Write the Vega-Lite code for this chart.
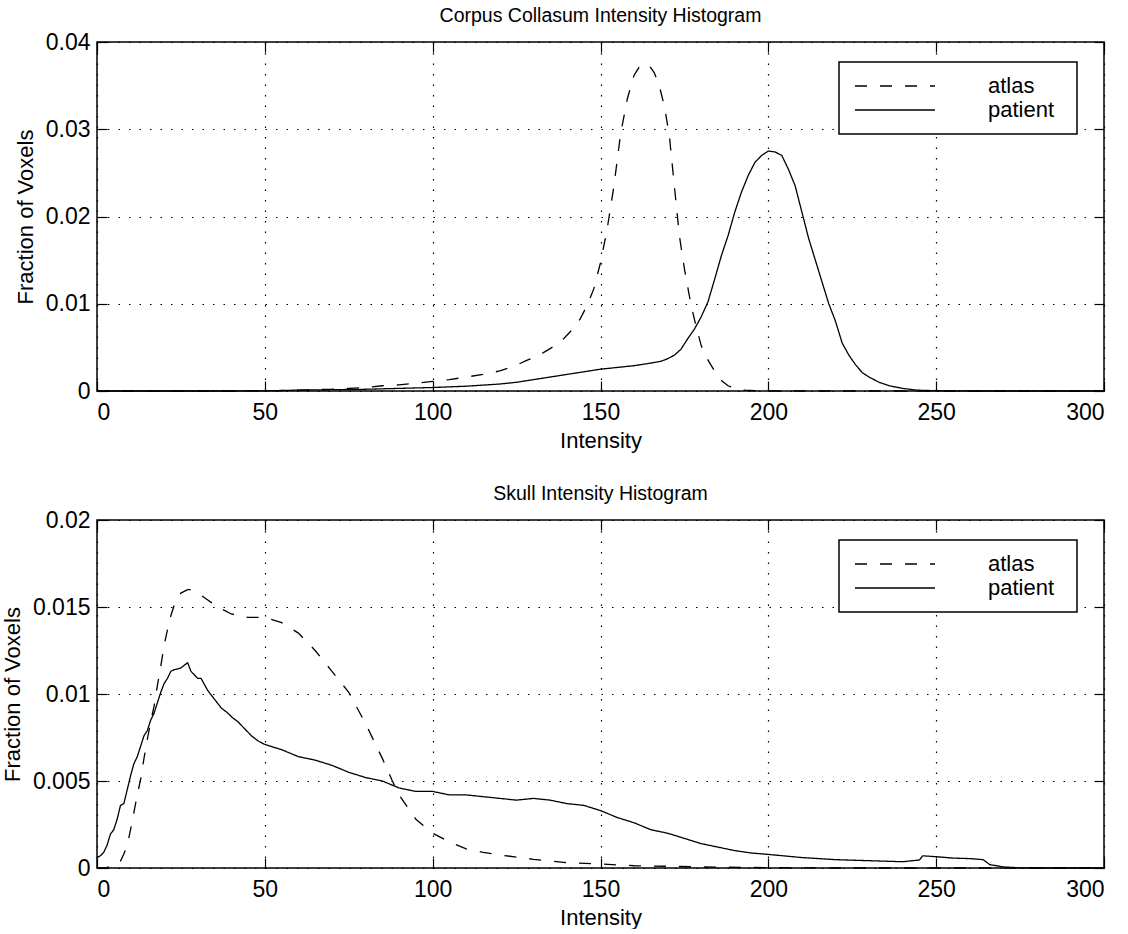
{
  "$schema": "https://vega.github.io/schema/vega-lite/v6.json",
  "background": "white",
  "padding": {"left": 0, "top": 4, "right": 0, "bottom": 0},
  "spacing": 30,
  "config": {
    "font": "Liberation Sans",
    "view": {"stroke": "black", "strokeWidth": 1.5},
    "axis": {
      "domain": false,
      "labelFont": "Liberation Sans",
      "labelFontSize": 23,
      "labelColor": "black",
      "titleFont": "Liberation Sans",
      "titleFontSize": 22,
      "titleFontWeight": "normal",
      "titleColor": "black",
      "tickColor": "black",
      "tickSize": -10,
      "tickWidth": 1.2,
      "grid": true,
      "gridColor": "black",
      "gridDash": [1.5, 9],
      "gridOpacity": 1,
      "gridWidth": 1.2
    },
    "axisX": {"labelPadding": 20, "titlePadding": 6},
    "axisY": {"labelPadding": 17, "titlePadding": 8},
    "title": {"font": "Liberation Sans", "fontSize": 19.5, "fontWeight": "normal", "color": "black", "offset": 5},
    "legend": {
      "orient": "none",
      "legendX": 742,
      "legendY": 20,
      "titleOrient": "right",
      "titleFontSize": 1,
      "titlePadding": 11,
      "symbolType": "stroke",
      "symbolSize": 6400,
      "symbolStrokeWidth": 1.5,
      "symbolStrokeColor": "black",
      "clipHeight": 24,
      "rowPadding": 0,
      "labelFont": "Liberation Sans",
      "labelFontSize": 22,
      "labelColor": "black",
      "labelOffset": 52,
      "symbolOffset": 3,
      "padding": 12,
      "strokeColor": "black",
      "fillColor": "white",
      "strokeWidth": 1.5
    }
  },
  "resolve": {"scale": {"x": "independent", "y": "independent", "strokeDash": "independent"}, "legend": {"strokeDash": "independent"}},
  "datasets": {
    "cc": [
      {"intensity": 0, "fraction": 0, "series": "atlas"},
      {"intensity": 10, "fraction": 0, "series": "atlas"},
      {"intensity": 20, "fraction": 0, "series": "atlas"},
      {"intensity": 30, "fraction": 0, "series": "atlas"},
      {"intensity": 40, "fraction": 0, "series": "atlas"},
      {"intensity": 50, "fraction": 0.00002, "series": "atlas"},
      {"intensity": 55, "fraction": 0.00005, "series": "atlas"},
      {"intensity": 60, "fraction": 0.0001, "series": "atlas"},
      {"intensity": 65, "fraction": 0.00015, "series": "atlas"},
      {"intensity": 70, "fraction": 0.0002, "series": "atlas"},
      {"intensity": 75, "fraction": 0.0003, "series": "atlas"},
      {"intensity": 80, "fraction": 0.0004, "series": "atlas"},
      {"intensity": 85, "fraction": 0.0006, "series": "atlas"},
      {"intensity": 90, "fraction": 0.0007, "series": "atlas"},
      {"intensity": 95, "fraction": 0.0009, "series": "atlas"},
      {"intensity": 100, "fraction": 0.0011, "series": "atlas"},
      {"intensity": 105, "fraction": 0.0013, "series": "atlas"},
      {"intensity": 110, "fraction": 0.0016, "series": "atlas"},
      {"intensity": 115, "fraction": 0.0019, "series": "atlas"},
      {"intensity": 120, "fraction": 0.0023, "series": "atlas"},
      {"intensity": 124, "fraction": 0.0028, "series": "atlas"},
      {"intensity": 128, "fraction": 0.0035, "series": "atlas"},
      {"intensity": 131, "fraction": 0.004, "series": "atlas"},
      {"intensity": 133, "fraction": 0.0044, "series": "atlas"},
      {"intensity": 136, "fraction": 0.0051, "series": "atlas"},
      {"intensity": 139, "fraction": 0.006, "series": "atlas"},
      {"intensity": 142, "fraction": 0.0072, "series": "atlas"},
      {"intensity": 144, "fraction": 0.0083, "series": "atlas"},
      {"intensity": 146, "fraction": 0.0098, "series": "atlas"},
      {"intensity": 148, "fraction": 0.0117, "series": "atlas"},
      {"intensity": 150, "fraction": 0.0147, "series": "atlas"},
      {"intensity": 152, "fraction": 0.0186, "series": "atlas"},
      {"intensity": 154, "fraction": 0.0235, "series": "atlas"},
      {"intensity": 156, "fraction": 0.0295, "series": "atlas"},
      {"intensity": 158, "fraction": 0.0335, "series": "atlas"},
      {"intensity": 160, "fraction": 0.0362, "series": "atlas"},
      {"intensity": 161.5, "fraction": 0.0371, "series": "atlas"},
      {"intensity": 163, "fraction": 0.0375, "series": "atlas"},
      {"intensity": 164.5, "fraction": 0.0373, "series": "atlas"},
      {"intensity": 166, "fraction": 0.0365, "series": "atlas"},
      {"intensity": 167.5, "fraction": 0.035, "series": "atlas"},
      {"intensity": 169, "fraction": 0.0327, "series": "atlas"},
      {"intensity": 170.5, "fraction": 0.0293, "series": "atlas"},
      {"intensity": 172, "fraction": 0.0235, "series": "atlas"},
      {"intensity": 173.5, "fraction": 0.0178, "series": "atlas"},
      {"intensity": 175, "fraction": 0.014, "series": "atlas"},
      {"intensity": 177, "fraction": 0.0098, "series": "atlas"},
      {"intensity": 178.5, "fraction": 0.0074, "series": "atlas"},
      {"intensity": 180, "fraction": 0.0052, "series": "atlas"},
      {"intensity": 181.5, "fraction": 0.0039, "series": "atlas"},
      {"intensity": 183, "fraction": 0.0029, "series": "atlas"},
      {"intensity": 184.5, "fraction": 0.002, "series": "atlas"},
      {"intensity": 186, "fraction": 0.0012, "series": "atlas"},
      {"intensity": 188, "fraction": 0.0006, "series": "atlas"},
      {"intensity": 190, "fraction": 0.0003, "series": "atlas"},
      {"intensity": 193, "fraction": 0.0001, "series": "atlas"},
      {"intensity": 196, "fraction": 0.00003, "series": "atlas"},
      {"intensity": 200, "fraction": 0, "series": "atlas"},
      {"intensity": 220, "fraction": 0, "series": "atlas"},
      {"intensity": 250, "fraction": 0, "series": "atlas"},
      {"intensity": 300, "fraction": 0, "series": "atlas"},
      {"intensity": 0, "fraction": 0, "series": "patient"},
      {"intensity": 20, "fraction": 0, "series": "patient"},
      {"intensity": 40, "fraction": 0, "series": "patient"},
      {"intensity": 50, "fraction": 0.00002, "series": "patient"},
      {"intensity": 60, "fraction": 0.0001, "series": "patient"},
      {"intensity": 70, "fraction": 0.00015, "series": "patient"},
      {"intensity": 80, "fraction": 0.0002, "series": "patient"},
      {"intensity": 90, "fraction": 0.0003, "series": "patient"},
      {"intensity": 100, "fraction": 0.0004, "series": "patient"},
      {"intensity": 110, "fraction": 0.00055, "series": "patient"},
      {"intensity": 120, "fraction": 0.0008, "series": "patient"},
      {"intensity": 125, "fraction": 0.001, "series": "patient"},
      {"intensity": 130, "fraction": 0.0013, "series": "patient"},
      {"intensity": 135, "fraction": 0.0016, "series": "patient"},
      {"intensity": 140, "fraction": 0.0019, "series": "patient"},
      {"intensity": 145, "fraction": 0.0022, "series": "patient"},
      {"intensity": 150, "fraction": 0.0025, "series": "patient"},
      {"intensity": 155, "fraction": 0.0027, "series": "patient"},
      {"intensity": 160, "fraction": 0.0029, "series": "patient"},
      {"intensity": 165, "fraction": 0.0032, "series": "patient"},
      {"intensity": 168, "fraction": 0.0034, "series": "patient"},
      {"intensity": 170, "fraction": 0.0037, "series": "patient"},
      {"intensity": 172, "fraction": 0.0041, "series": "patient"},
      {"intensity": 174, "fraction": 0.0048, "series": "patient"},
      {"intensity": 176, "fraction": 0.006, "series": "patient"},
      {"intensity": 178, "fraction": 0.0071, "series": "patient"},
      {"intensity": 180, "fraction": 0.0085, "series": "patient"},
      {"intensity": 182, "fraction": 0.0102, "series": "patient"},
      {"intensity": 184, "fraction": 0.0128, "series": "patient"},
      {"intensity": 186, "fraction": 0.0155, "series": "patient"},
      {"intensity": 188, "fraction": 0.0178, "series": "patient"},
      {"intensity": 190, "fraction": 0.0205, "series": "patient"},
      {"intensity": 192, "fraction": 0.0228, "series": "patient"},
      {"intensity": 194, "fraction": 0.0247, "series": "patient"},
      {"intensity": 196, "fraction": 0.0262, "series": "patient"},
      {"intensity": 198, "fraction": 0.027, "series": "patient"},
      {"intensity": 200, "fraction": 0.0275, "series": "patient"},
      {"intensity": 202, "fraction": 0.0274, "series": "patient"},
      {"intensity": 204, "fraction": 0.027, "series": "patient"},
      {"intensity": 206, "fraction": 0.0254, "series": "patient"},
      {"intensity": 208, "fraction": 0.0235, "series": "patient"},
      {"intensity": 210, "fraction": 0.0205, "series": "patient"},
      {"intensity": 212, "fraction": 0.0175, "series": "patient"},
      {"intensity": 214, "fraction": 0.015, "series": "patient"},
      {"intensity": 216, "fraction": 0.0125, "series": "patient"},
      {"intensity": 218, "fraction": 0.01, "series": "patient"},
      {"intensity": 220, "fraction": 0.008, "series": "patient"},
      {"intensity": 222, "fraction": 0.0055, "series": "patient"},
      {"intensity": 224, "fraction": 0.0041, "series": "patient"},
      {"intensity": 226, "fraction": 0.003, "series": "patient"},
      {"intensity": 228, "fraction": 0.0021, "series": "patient"},
      {"intensity": 230, "fraction": 0.0016, "series": "patient"},
      {"intensity": 233, "fraction": 0.001, "series": "patient"},
      {"intensity": 236, "fraction": 0.0006, "series": "patient"},
      {"intensity": 240, "fraction": 0.0003, "series": "patient"},
      {"intensity": 244, "fraction": 0.0001, "series": "patient"},
      {"intensity": 250, "fraction": 0.00003, "series": "patient"},
      {"intensity": 260, "fraction": 0, "series": "patient"},
      {"intensity": 300, "fraction": 0, "series": "patient"}
    ],
    "skull": [
      {"intensity": 0, "fraction": 0, "series": "atlas"},
      {"intensity": 2, "fraction": 0, "series": "atlas"},
      {"intensity": 3, "fraction": 0.00004, "series": "atlas"},
      {"intensity": 5, "fraction": 0.00013, "series": "atlas"},
      {"intensity": 6, "fraction": 0.0002, "series": "atlas"},
      {"intensity": 7, "fraction": 0.0004, "series": "atlas"},
      {"intensity": 8, "fraction": 0.0008, "series": "atlas"},
      {"intensity": 9, "fraction": 0.0013, "series": "atlas"},
      {"intensity": 10, "fraction": 0.0022, "series": "atlas"},
      {"intensity": 11, "fraction": 0.0032, "series": "atlas"},
      {"intensity": 12, "fraction": 0.0042, "series": "atlas"},
      {"intensity": 13, "fraction": 0.0051, "series": "atlas"},
      {"intensity": 14, "fraction": 0.0063, "series": "atlas"},
      {"intensity": 15, "fraction": 0.0074, "series": "atlas"},
      {"intensity": 16, "fraction": 0.0084, "series": "atlas"},
      {"intensity": 17, "fraction": 0.0093, "series": "atlas"},
      {"intensity": 18, "fraction": 0.0105, "series": "atlas"},
      {"intensity": 19, "fraction": 0.0116, "series": "atlas"},
      {"intensity": 20, "fraction": 0.0128, "series": "atlas"},
      {"intensity": 21, "fraction": 0.0137, "series": "atlas"},
      {"intensity": 22, "fraction": 0.0145, "series": "atlas"},
      {"intensity": 23, "fraction": 0.0151, "series": "atlas"},
      {"intensity": 24, "fraction": 0.0155, "series": "atlas"},
      {"intensity": 25, "fraction": 0.0158, "series": "atlas"},
      {"intensity": 27, "fraction": 0.016, "series": "atlas"},
      {"intensity": 28, "fraction": 0.016, "series": "atlas"},
      {"intensity": 30, "fraction": 0.0158, "series": "atlas"},
      {"intensity": 33, "fraction": 0.0154, "series": "atlas"},
      {"intensity": 36, "fraction": 0.015, "series": "atlas"},
      {"intensity": 40, "fraction": 0.0146, "series": "atlas"},
      {"intensity": 45, "fraction": 0.0144, "series": "atlas"},
      {"intensity": 50, "fraction": 0.0144, "series": "atlas"},
      {"intensity": 55, "fraction": 0.0141, "series": "atlas"},
      {"intensity": 60, "fraction": 0.0135, "series": "atlas"},
      {"intensity": 65, "fraction": 0.0125, "series": "atlas"},
      {"intensity": 70, "fraction": 0.0113, "series": "atlas"},
      {"intensity": 75, "fraction": 0.0101, "series": "atlas"},
      {"intensity": 80, "fraction": 0.0083, "series": "atlas"},
      {"intensity": 85, "fraction": 0.0063, "series": "atlas"},
      {"intensity": 88, "fraction": 0.005, "series": "atlas"},
      {"intensity": 90, "fraction": 0.0042, "series": "atlas"},
      {"intensity": 95, "fraction": 0.0028, "series": "atlas"},
      {"intensity": 100, "fraction": 0.002, "series": "atlas"},
      {"intensity": 105, "fraction": 0.0015, "series": "atlas"},
      {"intensity": 110, "fraction": 0.0011, "series": "atlas"},
      {"intensity": 115, "fraction": 0.0009, "series": "atlas"},
      {"intensity": 120, "fraction": 0.00075, "series": "atlas"},
      {"intensity": 130, "fraction": 0.0005, "series": "atlas"},
      {"intensity": 140, "fraction": 0.0003, "series": "atlas"},
      {"intensity": 150, "fraction": 0.00023, "series": "atlas"},
      {"intensity": 160, "fraction": 0.00013, "series": "atlas"},
      {"intensity": 170, "fraction": 0.0001, "series": "atlas"},
      {"intensity": 180, "fraction": 0.00006, "series": "atlas"},
      {"intensity": 200, "fraction": 0.00002, "series": "atlas"},
      {"intensity": 220, "fraction": 0, "series": "atlas"},
      {"intensity": 300, "fraction": 0, "series": "atlas"},
      {"intensity": 0, "fraction": 0.0006, "series": "patient"},
      {"intensity": 1, "fraction": 0.0007, "series": "patient"},
      {"intensity": 2, "fraction": 0.0009, "series": "patient"},
      {"intensity": 3, "fraction": 0.0013, "series": "patient"},
      {"intensity": 4, "fraction": 0.00195, "series": "patient"},
      {"intensity": 5, "fraction": 0.0022, "series": "patient"},
      {"intensity": 6, "fraction": 0.0028, "series": "patient"},
      {"intensity": 7, "fraction": 0.0036, "series": "patient"},
      {"intensity": 8, "fraction": 0.0037, "series": "patient"},
      {"intensity": 9, "fraction": 0.0045, "series": "patient"},
      {"intensity": 10, "fraction": 0.0053, "series": "patient"},
      {"intensity": 11, "fraction": 0.006, "series": "patient"},
      {"intensity": 12, "fraction": 0.0064, "series": "patient"},
      {"intensity": 13, "fraction": 0.007, "series": "patient"},
      {"intensity": 14, "fraction": 0.0076, "series": "patient"},
      {"intensity": 15, "fraction": 0.0079, "series": "patient"},
      {"intensity": 16, "fraction": 0.0085, "series": "patient"},
      {"intensity": 17, "fraction": 0.0089, "series": "patient"},
      {"intensity": 18, "fraction": 0.0095, "series": "patient"},
      {"intensity": 19, "fraction": 0.0101, "series": "patient"},
      {"intensity": 20, "fraction": 0.0106, "series": "patient"},
      {"intensity": 21, "fraction": 0.0109, "series": "patient"},
      {"intensity": 22, "fraction": 0.0113, "series": "patient"},
      {"intensity": 23, "fraction": 0.0114, "series": "patient"},
      {"intensity": 25, "fraction": 0.0115, "series": "patient"},
      {"intensity": 27, "fraction": 0.0118, "series": "patient"},
      {"intensity": 28, "fraction": 0.0113, "series": "patient"},
      {"intensity": 30, "fraction": 0.0109, "series": "patient"},
      {"intensity": 31, "fraction": 0.0109, "series": "patient"},
      {"intensity": 33, "fraction": 0.0102, "series": "patient"},
      {"intensity": 35, "fraction": 0.0097, "series": "patient"},
      {"intensity": 37, "fraction": 0.0092, "series": "patient"},
      {"intensity": 39, "fraction": 0.0089, "series": "patient"},
      {"intensity": 40, "fraction": 0.0087, "series": "patient"},
      {"intensity": 42, "fraction": 0.0084, "series": "patient"},
      {"intensity": 44, "fraction": 0.008, "series": "patient"},
      {"intensity": 46, "fraction": 0.0076, "series": "patient"},
      {"intensity": 48, "fraction": 0.0073, "series": "patient"},
      {"intensity": 50, "fraction": 0.0071, "series": "patient"},
      {"intensity": 55, "fraction": 0.0068, "series": "patient"},
      {"intensity": 60, "fraction": 0.0064, "series": "patient"},
      {"intensity": 65, "fraction": 0.0062, "series": "patient"},
      {"intensity": 70, "fraction": 0.0059, "series": "patient"},
      {"intensity": 75, "fraction": 0.0055, "series": "patient"},
      {"intensity": 80, "fraction": 0.0052, "series": "patient"},
      {"intensity": 85, "fraction": 0.005, "series": "patient"},
      {"intensity": 90, "fraction": 0.0046, "series": "patient"},
      {"intensity": 95, "fraction": 0.0044, "series": "patient"},
      {"intensity": 100, "fraction": 0.0044, "series": "patient"},
      {"intensity": 105, "fraction": 0.0042, "series": "patient"},
      {"intensity": 110, "fraction": 0.0042, "series": "patient"},
      {"intensity": 115, "fraction": 0.0041, "series": "patient"},
      {"intensity": 120, "fraction": 0.004, "series": "patient"},
      {"intensity": 125, "fraction": 0.0039, "series": "patient"},
      {"intensity": 130, "fraction": 0.004, "series": "patient"},
      {"intensity": 135, "fraction": 0.0039, "series": "patient"},
      {"intensity": 140, "fraction": 0.0037, "series": "patient"},
      {"intensity": 145, "fraction": 0.0036, "series": "patient"},
      {"intensity": 150, "fraction": 0.0033, "series": "patient"},
      {"intensity": 155, "fraction": 0.0029, "series": "patient"},
      {"intensity": 160, "fraction": 0.0026, "series": "patient"},
      {"intensity": 165, "fraction": 0.0022, "series": "patient"},
      {"intensity": 170, "fraction": 0.002, "series": "patient"},
      {"intensity": 175, "fraction": 0.0017, "series": "patient"},
      {"intensity": 180, "fraction": 0.0014, "series": "patient"},
      {"intensity": 185, "fraction": 0.0012, "series": "patient"},
      {"intensity": 190, "fraction": 0.001, "series": "patient"},
      {"intensity": 195, "fraction": 0.00086, "series": "patient"},
      {"intensity": 200, "fraction": 0.00078, "series": "patient"},
      {"intensity": 210, "fraction": 0.0006, "series": "patient"},
      {"intensity": 220, "fraction": 0.00048, "series": "patient"},
      {"intensity": 230, "fraction": 0.00042, "series": "patient"},
      {"intensity": 240, "fraction": 0.00036, "series": "patient"},
      {"intensity": 243, "fraction": 0.00042, "series": "patient"},
      {"intensity": 245, "fraction": 0.00046, "series": "patient"},
      {"intensity": 246, "fraction": 0.0007, "series": "patient"},
      {"intensity": 250, "fraction": 0.00065, "series": "patient"},
      {"intensity": 255, "fraction": 0.00057, "series": "patient"},
      {"intensity": 260, "fraction": 0.00054, "series": "patient"},
      {"intensity": 264, "fraction": 0.00048, "series": "patient"},
      {"intensity": 266, "fraction": 0.00019, "series": "patient"},
      {"intensity": 268, "fraction": 0.00013, "series": "patient"},
      {"intensity": 270, "fraction": 0.00006, "series": "patient"},
      {"intensity": 275, "fraction": 0.00001, "series": "patient"},
      {"intensity": 280, "fraction": 0, "series": "patient"},
      {"intensity": 300, "fraction": 0, "series": "patient"}
    ]
  },
  "vconcat": [
    {
      "title": "Corpus Collasum Intensity Histogram",
      "width": 1007,
      "height": 349,
      "data": {"name": "cc"},
      "layer": [
        {
          "mark": {"type": "line", "color": "black", "strokeWidth": 1.3},
          "encoding": {
            "x": {"field": "intensity", "type": "quantitative", "scale": {"domain": [0, 300], "nice": false, "zero": false}, "axis": {"title": "Intensity", "values": [0, 50, 100, 150, 200, 250, 300], "format": "~f"}},
            "y": {"field": "fraction", "type": "quantitative", "scale": {"domain": [0, 0.04], "nice": false}, "axis": {"title": "Fraction of Voxels", "values": [0, 0.01, 0.02, 0.03, 0.04], "format": "~f"}},
            "strokeDash": {"field": "series", "type": "nominal", "scale": {"domain": ["atlas", "patient"], "range": [[12, 13], [1, 0]]}, "legend": {"title": " "}}
          }
        },
        {
          "mark": {"type": "point", "opacity": 0},
          "encoding": {
            "x": {"field": "intensity", "type": "quantitative", "axis": {"orient": "top", "labels": false, "grid": false, "title": null, "values": [0, 50, 100, 150, 200, 250, 300]}},
            "y": {"field": "fraction", "type": "quantitative", "axis": {"orient": "right", "labels": false, "grid": false, "title": null, "values": [0, 0.01, 0.02, 0.03, 0.04]}}
          }
        }
      ],
      "resolve": {"axis": {"x": "independent", "y": "independent"}}
    },
    {
      "title": "Skull Intensity Histogram",
      "width": 1007,
      "height": 348,
      "data": {"name": "skull"},
      "layer": [
        {
          "mark": {"type": "line", "color": "black", "strokeWidth": 1.3},
          "encoding": {
            "x": {"field": "intensity", "type": "quantitative", "scale": {"domain": [0, 300], "nice": false, "zero": false}, "axis": {"title": "Intensity", "values": [0, 50, 100, 150, 200, 250, 300], "format": "~f"}},
            "y": {"field": "fraction", "type": "quantitative", "scale": {"domain": [0, 0.02], "nice": false}, "axis": {"title": "Fraction of Voxels", "values": [0, 0.005, 0.01, 0.015, 0.02], "format": "~f"}},
            "strokeDash": {"field": "series", "type": "nominal", "scale": {"domain": ["atlas", "patient"], "range": [[12, 13], [1, 0]]}, "legend": {"title": " "}}
          }
        },
        {
          "mark": {"type": "point", "opacity": 0},
          "encoding": {
            "x": {"field": "intensity", "type": "quantitative", "axis": {"orient": "top", "labels": false, "grid": false, "title": null, "values": [0, 50, 100, 150, 200, 250, 300]}},
            "y": {"field": "fraction", "type": "quantitative", "axis": {"orient": "right", "labels": false, "grid": false, "title": null, "values": [0, 0.005, 0.01, 0.015, 0.02]}}
          }
        }
      ],
      "resolve": {"axis": {"x": "independent", "y": "independent"}}
    }
  ]
}
